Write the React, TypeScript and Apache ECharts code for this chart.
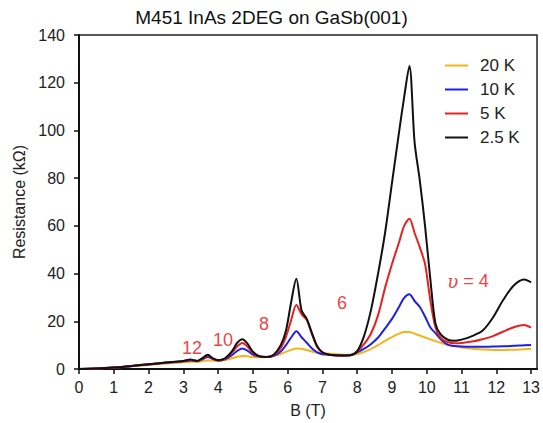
import { useEffect, useRef } from 'react';
import * as echarts from 'echarts';

const fieldT = [0, 0.5, 1, 1.5, 2, 2.5, 3, 3.2, 3.4, 3.55, 3.7, 3.85, 4.0, 4.2, 4.4, 4.55, 4.7, 4.85, 5.0, 5.2, 5.4, 5.6, 5.8, 5.95, 6.1, 6.25, 6.4, 6.55, 6.7, 6.85, 7.0, 7.2, 7.5, 7.8, 8.0, 8.2, 8.4, 8.6, 8.8, 9.0, 9.2, 9.35, 9.5, 9.65, 9.8, 9.95, 10.1, 10.25, 10.4, 10.6, 10.8, 11.0, 11.3, 11.6, 11.9, 12.2, 12.5, 12.8, 13.0];

const r2p5K = [0, 0.2, 0.6, 1.3, 2.0, 2.7, 3.4, 4.0, 3.4, 4.6, 6.0, 4.5, 3.7, 4.5, 7.5, 11, 12.5, 10.5, 7.2, 5.3, 5.0, 6.0, 10, 16, 28, 37.8, 24.5, 21, 15, 9.5, 7.0, 6.0, 5.7, 5.8, 7.5, 14, 25, 40, 57, 78, 99, 114, 127, 95, 79, 60, 38, 19, 14.5, 12.3, 11.8, 12.3, 13.8, 16, 21.5, 29, 35, 37.5, 36.3];

const r5K = [0, 0.2, 0.6, 1.3, 2.0, 2.7, 3.3, 3.8, 3.4, 4.4, 5.6, 4.4, 3.6, 4.4, 6.8, 9.5, 10.9, 9.3, 6.8, 5.2, 5.0, 5.8, 8.8, 13.5, 20.5, 26.8, 23, 20.5, 14.5, 9.2, 6.9, 6.0, 5.7, 5.8, 7.3, 10.5, 15, 22.6, 34, 44, 53, 60, 63, 57, 51, 44, 29, 17.5, 13, 11.3, 10.8, 10.9, 11.5, 12.5, 13.8, 15.7, 17.5, 18.4, 17.3];

const r10K = [0, 0.2, 0.6, 1.2, 1.9, 2.6, 3.2, 3.6, 3.3, 4.1, 5.0, 4.2, 3.6, 4.1, 5.8, 7.6, 8.6, 7.6, 6.0, 5.2, 5.0, 5.5, 7.3, 10, 13.2, 15.8, 13.3, 11, 8.6, 7.0, 6.2, 5.9, 5.7, 5.8, 7.0, 8.5, 10.5, 13.2, 17, 21, 26, 29.8, 31.3, 28.5, 26, 22, 17.5, 15, 12.5, 10.2, 9.6, 9.4, 9.3, 9.3, 9.4, 9.5, 9.7, 10.0, 10.1];

const r20K = [0, 0.2, 0.6, 1.1, 1.7, 2.3, 2.8, 3.0, 3.0, 3.3, 3.6, 3.5, 3.4, 3.8, 4.5, 5.1, 5.4, 5.3, 5.0, 4.9, 5.0, 5.5, 6.3, 7.2, 8.0, 8.6, 8.5, 8.0, 7.3, 6.8, 6.6, 6.4, 6.1, 6.0, 6.3, 7.2, 8.4, 10.0, 11.8, 13.4, 14.8, 15.5, 15.5, 14.8, 14.0, 13.2, 12.4, 11.7, 11.0, 10.2, 9.6, 9.0, 8.5, 8.2, 8.0, 8.0, 8.1, 8.3, 8.4];

const seriesNames = ['20 K', '10 K', '5 K', '2.5 K'];
const seriesValues = [r20K, r10K, r5K, r2p5K];
const seriesColors = ['#f4b41a', '#1f1fe6', '#e62121', '#111111'];

const xTicks = [0, 1, 2, 3, 4, 5, 6, 7, 8, 9, 10, 11, 12, 13];

const fillingLabels = ['12', '10', '8', '6'];

export default function App() {
  const ref = useRef<HTMLDivElement>(null);
  useEffect(() => {
    const chart = echarts.init(ref.current!, null, { renderer: 'svg' });
    const font = "'Liberation Sans', Arial, sans-serif";
    const annColor = '#e8464a';
    const annPos = [
      [192, 348],
      [223, 340],
      [264, 324],
      [342, 303],
    ];
    chart.setOption({
      animation: false,
      backgroundColor: '#ffffff',
      title: {
        text: 'M451 InAs 2DEG on GaSb(001)',
        left: 'center',
        top: 3,
        textStyle: { fontFamily: font, fontSize: 19, fontWeight: 'normal', color: '#111' },
      },
      grid: { left: 79, right: 3, top: 35, bottom: 52, show: true, borderColor: '#222', borderWidth: 1.5 },
      legend: {
        orient: 'vertical',
        left: 445,
        top: 57,
        itemWidth: 23,
        itemHeight: 2,
        itemGap: 7,
        padding: 0,
        icon: 'rect',
        data: seriesNames,
        textStyle: { fontFamily: font, fontSize: 17, color: '#222', padding: [0, 0, 0, 7] },
      },
      xAxis: {
        type: 'value',
        min: 0,
        max: 13.17,
        interval: 1,
        name: 'B (T)',
        nameLocation: 'middle',
        nameGap: 33,
        nameTextStyle: { fontFamily: font, fontSize: 16, color: '#222' },
        axisLine: { show: true, onZero: false, lineStyle: { color: '#111', width: 2 } },
        axisTick: { show: true, length: 5, customValues: xTicks, lineStyle: { color: '#111', width: 1.5 } },
        axisLabel: { customValues: xTicks, fontFamily: font, fontSize: 16, color: '#222', margin: 10 },
        splitLine: { show: false },
      },
      yAxis: {
        type: 'value',
        min: 0,
        max: 140,
        interval: 20,
        name: 'Resistance (kΩ)',
        nameLocation: 'middle',
        nameGap: 48,
        nameTextStyle: { fontFamily: font, fontSize: 16, color: '#222' },
        axisLine: { show: true, lineStyle: { color: '#111', width: 2 } },
        axisTick: { show: true, length: 5, lineStyle: { color: '#111', width: 1.5 } },
        axisLabel: { fontFamily: font, fontSize: 16, color: '#222', margin: 14 },
        splitLine: { show: false },
      },
      series: seriesNames.map((name, i) => ({
        name,
        type: 'line',
        smooth: 0.3,
        showSymbol: false,
        symbol: 'none',
        color: seriesColors[i],
        lineStyle: { width: 2, color: seriesColors[i] },
        data: fieldT.map((b, j) => [b, seriesValues[i][j]]),
        z: 2 + i,
      })),
      graphic: [
        ...fillingLabels.map((t, i) => ({
          type: 'text',
          x: annPos[i][0],
          y: annPos[i][1],
          style: {
            text: t,
            fill: annColor,
            font: `18px ${font}`,
            textAlign: 'center',
            textVerticalAlign: 'middle',
          },
        })),
        {
          type: 'text',
          x: 468,
          y: 281,
          style: {
            text: '{i|υ} = 4',
            fill: annColor,
            font: `18px ${font}`,
            textAlign: 'center',
            textVerticalAlign: 'middle',
            rich: {
              i: { fontStyle: 'italic', fontFamily: "'DejaVu Serif', serif", fontSize: 18, fill: annColor },
            },
          },
        },
      ],
    });
    return () => chart.dispose();
  }, []);
  return <div ref={ref} style={{ position: 'fixed', left: 0, top: 0, width: 543, height: 423 }} />;
}
